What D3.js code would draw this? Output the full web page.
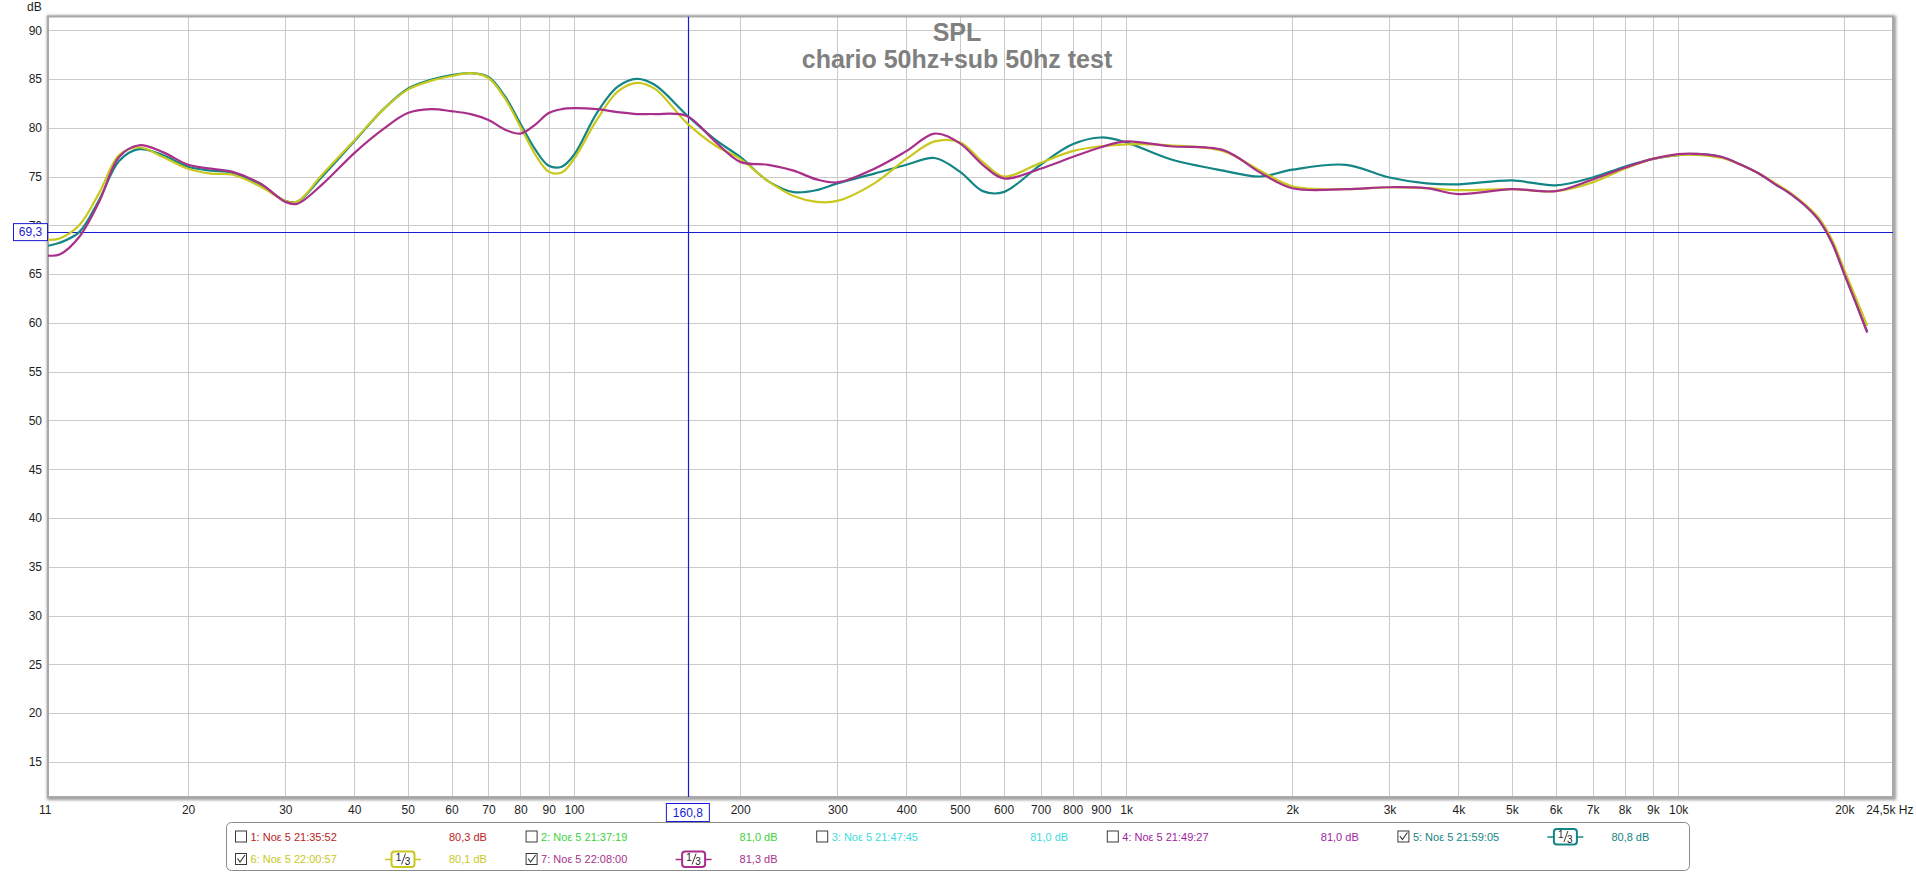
<!DOCTYPE html>
<html>
<head>
<meta charset="utf-8">
<script src="https://cdn.jsdelivr.net/npm/d3@7"></script>
<style>
  html, body { margin: 0; padding: 0; background: #ffffff; }
  svg { display: block; font-family: "Liberation Sans", Arial, sans-serif; }
</style>
</head>
<body>
<svg id="chart" width="1916" height="873"></svg>
<script>
// ---------------- DATA ----------------
const freqs = [11.15, 11.7, 12.7, 13.8, 15, 16.3, 18, 20, 22, 24, 27, 30, 31.5, 35, 40, 45, 50, 55, 60, 65, 70, 75, 80, 85, 90, 95, 100, 110, 120, 130, 140, 160, 180, 200, 225, 250, 275, 300, 350, 400, 450, 500, 550, 600, 700, 800, 900, 1000, 1200, 1500, 1750, 2000, 2500, 3000, 3500, 4000, 5000, 6000, 7000, 8000, 9000, 10000, 11000, 12000, 13000, 14000, 15000, 16000, 17000, 18000, 19000, 20000, 21000, 22000];

const series5 = [67.9, 68.2, 69.3, 72.6, 76.6, 77.8, 77.2, 76.0, 75.6, 75.4, 74.2, 72.5, 72.4, 75.0, 78.6, 81.8, 84.0, 84.9, 85.4, 85.6, 85.2, 83.2, 80.4, 77.8, 76.1, 76.0, 77.2, 81.5, 84.2, 85.0, 84.4, 81.3, 78.8, 77.0, 74.5, 73.4, 73.6, 74.3, 75.3, 76.2, 76.9, 75.5, 73.5, 73.4, 76.2, 78.3, 79.0, 78.5, 76.8, 75.6, 75.0, 75.7, 76.2, 74.9, 74.3, 74.2, 74.6, 74.1, 74.9, 76.0, 76.8, 77.2, 77.3, 77.0, 76.2, 75.3, 74.2, 73.2, 72.0, 70.5, 68.2, 65.0, 62.0, 59.1];

const series6 = [68.5, 68.65, 70.0, 73.3, 77.2, 78.0, 77.0, 75.8, 75.3, 75.2, 74.0, 72.5, 72.4, 75.2, 78.7, 81.8, 83.9, 84.8, 85.3, 85.6, 85.1, 83.0, 80.1, 77.3, 75.5, 75.4, 76.8, 80.8, 83.7, 84.6, 84.0, 80.5, 78.2, 76.8, 74.5, 73.0, 72.4, 72.5, 74.3, 76.8, 78.6, 78.5, 76.5, 75.0, 76.4, 77.6, 78.1, 78.3, 78.2, 77.6, 75.6, 74.0, 73.7, 73.9, 73.8, 73.6, 73.7, 73.5, 74.4, 75.8, 76.8, 77.2, 77.2, 76.9, 76.2, 75.3, 74.3, 73.3, 72.1, 70.7, 68.5, 65.4, 62.5, 59.7];

const series7 = [66.9, 67.0, 68.8, 72.4, 77.0, 78.2, 77.5, 76.2, 75.8, 75.5, 74.3, 72.4, 72.2, 74.2, 77.4, 79.8, 81.5, 81.9, 81.7, 81.4, 80.8, 79.8, 79.4, 80.3, 81.5, 81.9, 82.0, 81.9, 81.6, 81.4, 81.4, 81.2, 78.6, 76.5, 76.2, 75.6, 74.7, 74.4, 75.8, 77.6, 79.4, 78.4, 76.2, 74.8, 75.8, 77.0, 78.0, 78.6, 78.1, 77.7, 75.4, 73.8, 73.7, 73.9, 73.8, 73.2, 73.7, 73.5, 74.7, 75.9, 76.8, 77.3, 77.3, 77.0, 76.2, 75.3, 74.2, 73.2, 72.0, 70.5, 68.2, 65.0, 62.0, 59.0];

const seriesColors = ["#138585", "#c8c81e", "#a8308a"];

const xTickValues = [11, 20, 30, 40, 50, 60, 70, 80, 90, 100, 200, 300, 400, 500, 600, 700, 800, 900, 1000, 2000, 3000, 4000, 5000, 6000, 7000, 8000, 9000, 10000, 20000, 24500];
const xTickLabels = ["11", "20", "30", "40", "50", "60", "70", "80", "90", "100", "200", "300", "400", "500", "600", "700", "800", "900", "1k", "2k", "3k", "4k", "5k", "6k", "7k", "8k", "9k", "10k", "20k", "24,5k Hz"];
const xGridValues = [20, 30, 40, 50, 60, 70, 80, 90, 100, 200, 300, 400, 500, 600, 700, 800, 900, 1000, 2000, 3000, 4000, 5000, 6000, 7000, 8000, 9000, 10000, 20000];
const yTickValues = [15, 20, 25, 30, 35, 40, 45, 50, 55, 60, 65, 70, 75, 80, 85, 90];

const cursorFreq = 160.8;
const cursorFreqLabel = "160,8";
const cursorLevel = 69.3;
const cursorLevelLabel = "69,3";

const titleText = "SPL";
const subtitleText = "chario 50hz+sub 50hz test";
const yUnit = "dB";

const legendLabels = ["1: Νοε 5 21:35:52", "2: Νοε 5 21:37:19", "3: Νοε 5 21:47:45", "4: Νοε 5 21:49:27", "5: Νοε 5 21:59:05", "6: Νοε 5 22:00:57", "7: Νοε 5 22:08:00"];
const legendValues = ["80,3 dB", "81,0 dB", "81,0 dB", "81,0 dB", "80,8 dB", "80,1 dB", "81,3 dB"];
const legendColors = ["#b81c1c", "#3cd23c", "#3cdcdc", "#a01ea0", "#138585", "#c8c81e", "#a8308a"];
const legendChecked = [false, false, false, false, true, true, true];
const legendSmoothing = ["", "", "", "", "1/3", "1/3", "1/3"];

// ---------------- LAYOUT ----------------
const plot = { left: 48, right: 1893, top: 16.5, bottom: 797 };

const svg = d3.select("#chart");

const x = d3.scaleLog().domain([11.15, 24500]).range([plot.left, plot.right]);
const y = d3.scaleLinear().domain([11.4, 91.4]).range([plot.bottom, plot.top]);

// defs: shadow + clip
const defs = svg.append("defs");
const f = defs.append("filter").attr("id", "shadow").attr("x", "-5%").attr("y", "-5%").attr("width", "110%").attr("height", "110%");
f.append("feGaussianBlur").attr("stdDeviation", 1.6);
defs.append("clipPath").attr("id", "plotClip")
  .append("rect").attr("x", plot.left).attr("y", plot.top)
  .attr("width", plot.right - plot.left).attr("height", plot.bottom - plot.top);

// frame shadow
svg.append("rect")
  .attr("x", plot.left - 1).attr("y", plot.top - 1)
  .attr("width", plot.right - plot.left + 4).attr("height", plot.bottom - plot.top + 4)
  .attr("fill", "#9a9a9a").attr("filter", "url(#shadow)");
svg.append("rect")
  .attr("x", plot.left).attr("y", plot.top)
  .attr("width", plot.right - plot.left).attr("height", plot.bottom - plot.top)
  .attr("fill", "#ffffff");

// grid
const grid = svg.append("g").attr("clip-path", "url(#plotClip)");
grid.selectAll("line.vg").data(xGridValues).enter().append("line")
  .attr("x1", d => Math.round(x(d)) + 0.5).attr("x2", d => Math.round(x(d)) + 0.5)
  .attr("y1", plot.top).attr("y2", plot.bottom)
  .attr("stroke", "#cbcbcb").attr("stroke-width", 1);
grid.selectAll("line.hg").data(yTickValues).enter().append("line")
  .attr("x1", plot.left).attr("x2", plot.right)
  .attr("y1", d => Math.round(y(d)) + 0.5).attr("y2", d => Math.round(y(d)) + 0.5)
  .attr("stroke", "#cbcbcb").attr("stroke-width", 1);

// frame border
svg.append("rect")
  .attr("x", plot.left).attr("y", plot.top)
  .attr("width", plot.right - plot.left).attr("height", plot.bottom - plot.top)
  .attr("fill", "none").attr("stroke", "#a9a9a9").attr("stroke-width", 2);

// title
svg.append("text").attr("x", 957).attr("y", 40.5).attr("text-anchor", "middle")
  .attr("font-size", 25).attr("font-weight", "bold").attr("fill", "#808080").text(titleText);
svg.append("text").attr("x", 957).attr("y", 68.3).attr("text-anchor", "middle")
  .attr("font-size", 25).attr("font-weight", "bold").attr("fill", "#808080").text(subtitleText);

// cursor lines (under curves)
const cur = svg.append("g").attr("clip-path", "url(#plotClip)");
cur.append("line")
  .attr("x1", Math.round(x(cursorFreq)) + 0.5).attr("x2", Math.round(x(cursorFreq)) + 0.5)
  .attr("y1", plot.top).attr("y2", plot.bottom)
  .attr("stroke", "#1a1ad2").attr("stroke-width", 1.2);
cur.append("line")
  .attr("x1", plot.left).attr("x2", plot.right)
  .attr("y1", Math.round(y(cursorLevel)) + 0.5).attr("y2", Math.round(y(cursorLevel)) + 0.5)
  .attr("stroke", "#1a1ad2").attr("stroke-width", 1.2);

// curves
const line = d3.line()
  .x((d, i) => x(freqs[i]))
  .y(d => y(d))
  .curve(d3.curveCatmullRom.alpha(0.5));
const curves = svg.append("g").attr("clip-path", "url(#plotClip)");
[series5, series6, series7].forEach((s, k) => {
  curves.append("path").datum(s)
    .attr("d", line)
    .attr("fill", "none")
    .attr("stroke", seriesColors[k])
    .attr("stroke-width", 2.2)
    .attr("stroke-linejoin", "round");
});

// y axis
const yAxis = d3.axisLeft(y).tickValues(yTickValues).tickSize(0).tickPadding(0).tickFormat(d3.format("d"));
const yg = svg.append("g").attr("transform", `translate(${plot.left - 6},0)`).call(yAxis);
yg.select(".domain").remove();
yg.selectAll("text").attr("font-size", 12).attr("fill", "#1e1e1e")
  .attr("font-family", "Liberation Sans, Arial, sans-serif");
svg.append("text").attr("x", 27).attr("y", 11).attr("font-size", 12).attr("fill", "#1e1e1e").text(yUnit);

// x axis
const xAxis = d3.axisBottom(x).tickValues(xTickValues).tickSize(0).tickPadding(0)
  .tickFormat((d, i) => xTickLabels[i]);
const xg = svg.append("g").attr("transform", `translate(0,${plot.bottom + 8})`).call(xAxis);
xg.select(".domain").remove();
xg.selectAll("text").attr("font-size", 12).attr("fill", "#1e1e1e").attr("dy", "0.72em")
  .attr("font-family", "Liberation Sans, Arial, sans-serif");
xg.selectAll(".tick").filter(d => d === 24500).select("text")
  .attr("text-anchor", "end").attr("dx", 20);

// cursor labels
const yl = svg.append("g");
const yly = y(cursorLevel);
yl.append("rect").attr("x", 13.5).attr("y", yly - 8.5).attr("width", 34).attr("height", 17)
  .attr("fill", "#ffffff").attr("stroke", "#1a1ad2").attr("stroke-width", 1);
yl.append("text").attr("x", 30.5).attr("y", yly + 4.3).attr("text-anchor", "middle")
  .attr("font-size", 12).attr("fill", "#1a1ad2").text(cursorLevelLabel);
const xlx = x(cursorFreq);
const xl = svg.append("g");
xl.append("rect").attr("x", xlx - 21.5).attr("y", 803.5).attr("width", 43).attr("height", 18)
  .attr("fill", "#ffffff").attr("stroke", "#1a1ad2").attr("stroke-width", 1);
xl.append("text").attr("x", xlx).attr("y", 817).attr("text-anchor", "middle")
  .attr("font-size", 12).attr("fill", "#1a1ad2").text(cursorFreqLabel);

// legend
const lg = svg.append("g");
lg.append("rect").attr("x", 226.5).attr("y", 822.5).attr("width", 1463).attr("height", 48)
  .attr("rx", 5).attr("fill", "#ffffff").attr("stroke", "#8a8a8a").attr("stroke-width", 1);
const colW = 290.6, rowY = [836.5, 859];
legendLabels.forEach((lab, i) => {
  const col = i % 5, row = Math.floor(i / 5);
  const cx = 235 + col * colW, cy = rowY[row];
  const g = lg.append("g");
  g.append("rect").attr("x", cx + 0.5).attr("y", cy - 5.5).attr("width", 11).attr("height", 11)
    .attr("fill", "#ffffff").attr("stroke", "#3a3a3a").attr("stroke-width", 1);
  if (legendChecked[i]) {
    g.append("path").attr("d", `M${cx + 2.5},${cy - 0.5} L${cx + 5},${cy + 3} L${cx + 10},${cy - 4}`)
      .attr("fill", "none").attr("stroke", "#3a3a3a").attr("stroke-width", 1.2);
  }
  g.append("text").attr("x", cx + 15.5).attr("y", cy + 4).attr("font-size", 11)
    .attr("fill", legendColors[i]).text(lab);
  if (legendSmoothing[i]) {
    const bx = cx + 168;
    g.append("line").attr("x1", bx - 18).attr("x2", bx + 18).attr("y1", cy + 0.5).attr("y2", cy + 0.5)
      .attr("stroke", legendColors[i]).attr("stroke-width", 1.6);
    g.append("rect").attr("x", bx - 11.5).attr("y", cy - 7.5).attr("width", 23).attr("height", 15.5)
      .attr("rx", 3).attr("fill", "#ffffff").attr("stroke", legendColors[i]).attr("stroke-width", 2);
    const parts = legendSmoothing[i].split("/");
    g.append("text").attr("x", bx - 4.5).attr("y", cy + 1.5).attr("font-size", 10).attr("fill", "#222")
      .attr("text-anchor", "middle").text(parts[0]);
    g.append("line").attr("x1", bx + 2.5).attr("x2", bx - 1.5).attr("y1", cy - 5.5).attr("y2", cy + 5.5)
      .attr("stroke", "#222").attr("stroke-width", 0.9);
    g.append("text").attr("x", bx + 4.5).attr("y", cy + 6.3).attr("font-size", 10).attr("fill", "#222")
      .attr("text-anchor", "middle").text(parts[1]);
  }
  g.append("text").attr("x", cx + 214).attr("y", cy + 4).attr("font-size", 11)
    .attr("fill", legendColors[i]).text(legendValues[i]);
});
</script>
</body>
</html>
